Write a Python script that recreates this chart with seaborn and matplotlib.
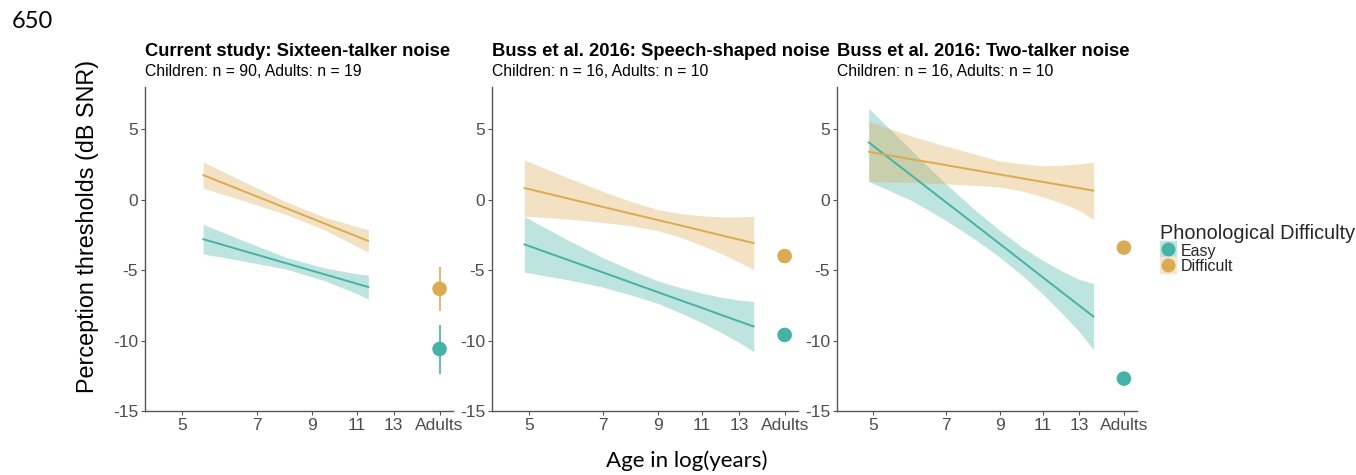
import numpy as np
import pandas as pd
import matplotlib
matplotlib.use("Agg")
import matplotlib.pyplot as plt
import seaborn as sns
from matplotlib.lines import Line2D
from matplotlib.legend_handler import HandlerTuple
from matplotlib.ticker import FixedLocator, NullLocator

# ---------------- data ----------------
panel_titles = ["Current study: Sixteen-talker noise",
                "Buss et al. 2016: Speech-shaped noise",
                "Buss et al. 2016: Two-talker noise"]
panel_subtitles = ["Children: n = 90, Adults: n = 19",
                   "Children: n = 16, Adults: n = 10",
                   "Children: n = 16, Adults: n = 10"]
groups = ["Easy", "Difficult"]

x_tick_ages = [5, 7, 9, 11, 13, 16]
x_tick_labels = ["5", "7", "9", "11", "13", "Adults"]
y_ticks = [-15, -10, -5, 0, 5]

# panel 1 (current study)
p1_ages = [5.5, 6.5, 8, 9.5, 11, 11.6]
p1_easy_fit = [-2.8, -3.56, -4.51, -5.29, -5.96, -6.2]
p1_easy_lo = [-3.85, -4.31, -4.93, -5.74, -6.66, -7.05]
p1_easy_hi = [-1.75, -2.81, -4.09, -4.84, -5.26, -5.35]
p1_diff_fit = [1.75, 0.70, -0.60, -1.68, -2.60, -2.93]
p1_diff_lo = [0.82, 0.0, -1.05, -2.13, -3.3, -3.73]
p1_diff_hi = [2.68, 1.4, -0.15, -1.23, -1.9, -2.13]

# panel 2 (speech-shaped noise)
p2_ages = [4.9, 6, 7, 8, 9, 10, 11, 12, 13, 13.9]
p2_easy_fit = [-3.17, -4.30, -5.16, -5.91, -6.57, -7.16, -7.69, -8.18, -8.63, -9.0]
p2_easy_lo = [-5.14, -5.70, -6.21, -6.79, -7.37, -8.06, -8.74, -9.43, -10.13, -10.78]
p2_easy_hi = [-1.20, -2.90, -4.11, -5.03, -5.77, -6.26, -6.64, -6.93, -7.13, -7.22]
p2_diff_fit = [0.83, 0.07, -0.51, -1.01, -1.45, -1.84, -2.20, -2.53, -2.83, -3.08]
p2_diff_lo = [-1.17, -1.38, -1.61, -1.86, -2.20, -2.69, -3.25, -3.83, -4.43, -4.98]
p2_diff_hi = [2.83, 1.52, 0.59, -0.16, -0.70, -0.99, -1.15, -1.23, -1.23, -1.18]

# panel 3 (two-talker noise)
p3_ages = [4.9, 6, 7, 8, 9, 10, 11, 12, 13, 13.9]
p3_easy_fit = [4.07, 1.67, -0.16, -1.74, -3.14, -4.39, -5.53, -6.56, -7.51, -8.3]
p3_easy_lo = [1.3, -0.08, -1.46, -2.79, -4.09, -5.39, -6.73, -8.06, -9.36, -10.65]
p3_easy_hi = [6.5, 3.42, 1.14, -0.69, -2.19, -3.39, -4.33, -5.06, -5.66, -5.95]
p3_diff_fit = [3.4, 2.86, 2.46, 2.10, 1.79, 1.51, 1.26, 1.03, 0.82, 0.64]
p3_diff_lo = [1.28, 1.22, 1.12, 1.02, 0.9, 0.6, 0.2, -0.25, -0.75, -1.42]
p3_diff_hi = [5.55, 4.5, 3.8, 3.25, 2.75, 2.55, 2.4, 2.45, 2.55, 2.65]

# adults (plotted at the "Adults" position)
adult_pos = 16
adult_easy = [-10.6, -9.6, -12.7]
adult_easy_lo = [-12.35, -9.6, -12.7]
adult_easy_hi = [-8.9, -9.6, -12.7]
adult_diff = [-6.33, -4.0, -3.4]
adult_diff_lo = [-7.9, -4.0, -3.4]
adult_diff_hi = [-4.8, -4.0, -3.4]

# ---------------- tables ----------------
rows = []
panel_series = [
    (p1_ages, [(p1_easy_fit, p1_easy_lo, p1_easy_hi), (p1_diff_fit, p1_diff_lo, p1_diff_hi)]),
    (p2_ages, [(p2_easy_fit, p2_easy_lo, p2_easy_hi), (p2_diff_fit, p2_diff_lo, p2_diff_hi)]),
    (p3_ages, [(p3_easy_fit, p3_easy_lo, p3_easy_hi), (p3_diff_fit, p3_diff_lo, p3_diff_hi)]),
]
for p, (ages, series) in enumerate(panel_series):
    for g, (fit, lo, hi) in zip(groups, series):
        for a, f, l, h in zip(ages, fit, lo, hi):
            rows.append(dict(panel=p, group=g, age=a, fit=f, lo=l, hi=h))
kids = pd.DataFrame(rows)

arows = []
for p in range(3):
    arows.append(dict(panel=p, group="Easy", age=adult_pos, value=adult_easy[p],
                      lo=adult_easy_lo[p], hi=adult_easy_hi[p]))
    arows.append(dict(panel=p, group="Difficult", age=adult_pos, value=adult_diff[p],
                      lo=adult_diff_lo[p], hi=adult_diff_hi[p]))
adults = pd.DataFrame(arows)

# ---------------- style ----------------
sns.set_theme(style="white")
plt.rcParams["font.family"] = ["Liberation Sans", "DejaVu Sans"]

teal = "#45B2A6"
gold = "#DBAA52"
palette = {"Easy": teal, "Difficult": gold}
band_key = {"Easy": "#BFE4E0", "Difficult": "#F4E6CC"}
axis_col = "#555555"
tick_col = "#4D4D4D"

W, H = 1356, 475
fig = plt.figure(figsize=(W / 100, H / 100), dpi=100)

ax_px = [(145, 308), (492, 306), (837, 300)]
top_px, bot_px = 87, 411

for p, (lx, wx) in enumerate(ax_px):
    ax = fig.add_axes([lx / W, 1 - bot_px / H, wx / W, (bot_px - top_px) / H])
    sub = kids[kids.panel == p]
    for g in groups:
        s = sub[sub.group == g]
        ax.fill_between(s.age, s.lo, s.hi, color=palette[g], alpha=0.35, lw=0)
    sns.lineplot(data=sub, x="age", y="fit", hue="group", palette=palette,
                 hue_order=groups, ax=ax, legend=False, linewidth=1.4)
    asub = adults[adults.panel == p]
    for _, r in asub.iterrows():
        if r.hi > r.lo:
            ax.vlines(r.age, r.lo, r.hi, color=palette[r.group], lw=1.2)
    sns.scatterplot(data=asub, x="age", y="value", hue="group", palette=palette,
                    hue_order=groups, ax=ax, legend=False, s=110, edgecolor="none")

    ax.set_xscale("log")
    ax.set_xlim(4.23, 17.0)
    ax.set_ylim(-15, 8)
    ax.xaxis.set_major_locator(FixedLocator(x_tick_ages))
    ax.xaxis.set_minor_locator(NullLocator())
    ax.set_xticklabels(x_tick_labels)
    ax.set_yticks(y_ticks)
    ax.set_yticklabels([str(v) for v in y_ticks])
    ax.set_xlabel("")
    ax.set_ylabel("")
    for side in ["top", "right"]:
        ax.spines[side].set_visible(False)
    for side in ["left", "bottom"]:
        ax.spines[side].set_color(axis_col)
        ax.spines[side].set_linewidth(1.0)
    ax.tick_params(axis="both", which="major", length=3, width=0.8, color=axis_col,
                   labelcolor=tick_col, labelsize=12.5, pad=2, direction="out",
                   bottom=True, left=True)

    fig.text(lx / W, 1 - 52 / H, panel_titles[p], fontsize=13.2, fontweight="bold",
             ha="left", va="center", color="black")
    fig.text(lx / W, 1 - 72 / H, panel_subtitles[p], fontsize=11.3,
             ha="left", va="center", color="black")

fig.text(88 / W, 1 - 226 / H, "Perception thresholds (dB SNR)", rotation=90,
         fontsize=16.8, ha="center", va="center", color="black")
fig.text(687 / W, 1 - 461 / H, "Age in log(years)", fontsize=16, ha="center",
         va="center", color="black", family=["Lato", "DejaVu Sans"])
fig.text(12 / W, 1 - 21 / H, "650", fontsize=17, ha="left", va="center",
         color="black", family=["Lato", "DejaVu Sans"])

handles = [(Line2D([], [], marker="s", color=band_key[g], ls="", ms=12),
            Line2D([], [], marker="o", color=palette[g], ls="", ms=9))
           for g in groups]
leg = fig.legend(handles, groups, handler_map={tuple: HandlerTuple(ndivide=1, pad=0)},
                 title="Phonological Difficulty", loc="upper left",
                 bbox_to_anchor=(1154 / W, 1 - 218 / H), frameon=False,
                 fontsize=11.5, title_fontsize=14.3, handlelength=0.9, handleheight=0.9,
                 handletextpad=0.35, labelspacing=0.0, borderaxespad=0,
                 alignment="left", numpoints=1)

fig.savefig("out.png", dpi=100)
